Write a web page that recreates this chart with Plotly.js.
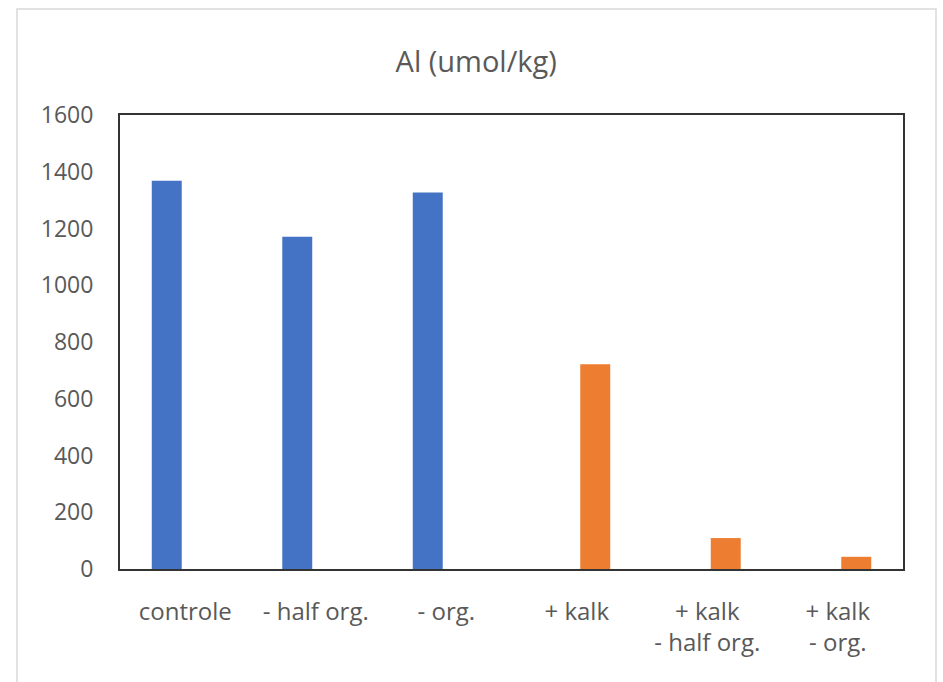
<!DOCTYPE html>
<html>
<head>
<meta charset="utf-8">
<script src="https://cdn.plot.ly/plotly-3.0.1.min.js"></script>
<style>html,body{margin:0;padding:0;background:#fff;}#chart{width:943px;height:682px;}</style>
</head>
<body>
<div id="chart"></div>
<script>
const categories = ["controle", "- half org.", "- org.", "+ kalk", "+ kalk<br>- half org.", "+ kalk<br>- org."];
const seriesBlue = [1368, 1171, 1327, null, null, null];
const seriesOrange = [null, null, null, 722, 109, 43];
const yTicks = [0, 200, 400, 600, 800, 1000, 1200, 1400, 1600];

const textColor = "#595959";
const fontFam = "Open Sans, sans-serif";

const traces = [
  {type: "bar", x: categories, y: seriesBlue, marker: {color: "#4472C4"}, name: "s1", hoverinfo: "y"},
  {type: "bar", x: categories, y: seriesOrange, marker: {color: "#ED7D31"}, name: "s2", hoverinfo: "y"}
];

const layout = {
  width: 943, height: 682,
  margin: {l: 120, r: 40, t: 115, b: 113},
  paper_bgcolor: "#fff", plot_bgcolor: "#fff",
  showlegend: false,
  barmode: "group",
  bargap: 0.433,
  bargroupgap: 0.19,
  title: {text: "Al (umol/kg)", x: 0.505, xanchor: "center", y: 0.909, yanchor: "middle",
          font: {family: fontFam, size: 29, color: textColor}},
  xaxis: {
    type: "category",
    showline: true, mirror: true, linecolor: "#333333", linewidth: 2,
    showgrid: false, ticks: "", ticklabelstandoff: 20,
    tickfont: {family: fontFam, size: 24, color: textColor}
  },
  yaxis: {
    range: [0, 1600], tickvals: yTicks, ticktext: yTicks.map(String),
    showline: true, mirror: true, linecolor: "#333333", linewidth: 2,
    showgrid: false, zeroline: false, ticks: "", ticklabelstandoff: 20,
    tickfont: {family: fontFam, size: 23, color: textColor}
  },
  shapes: [
    {type: "rect", xref: "paper", yref: "paper",
     x0: (17 - 120) / 783, x1: (936 - 120) / 783,
     y0: (569 - 700) / 454, y1: (569 - 9) / 454,
     line: {color: "#d9d9d9", width: 1.5}, fillcolor: "rgba(0,0,0,0)", layer: "below"}
  ]
};

Plotly.newPlot("chart", traces, layout, {displayModeBar: false, staticPlot: true});
</script>
</body>
</html>
